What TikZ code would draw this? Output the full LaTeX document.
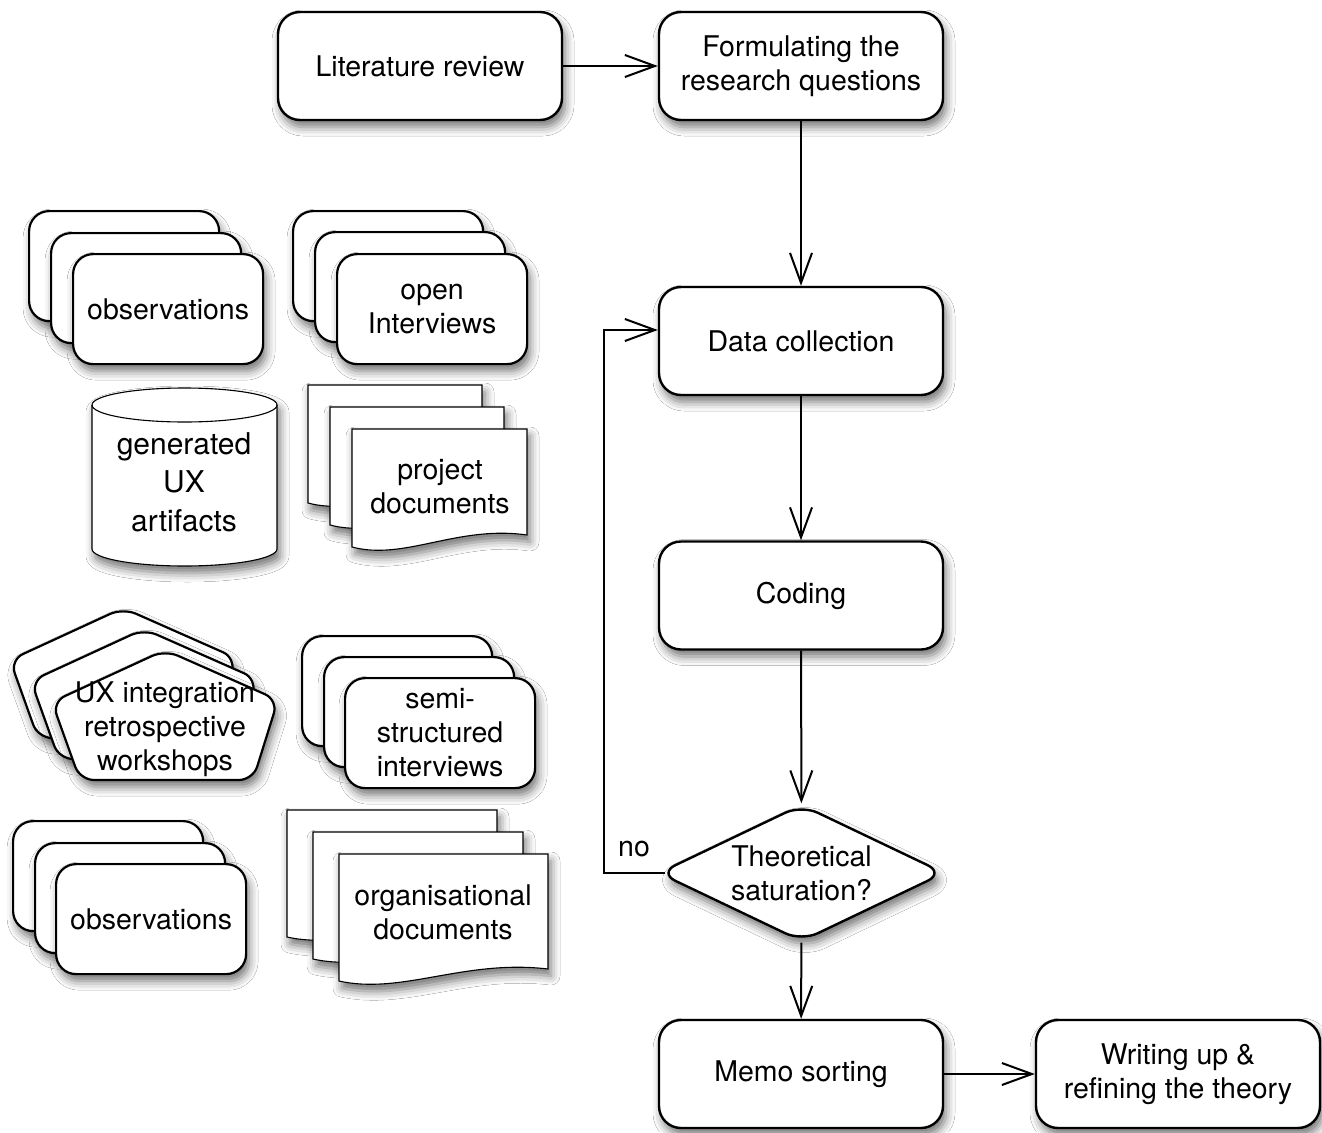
\documentclass[tikz,border=0pt]{standalone}
\usepackage{fontspec}
\setmainfont{TeX Gyre Heros}
\usetikzlibrary{arrows.meta,shapes.geometric,shadows.blur}
\newcommand\mainfs{\fontsize{28.5pt}{34pt}\selectfont}
\newcommand\cylfs{\fontsize{30pt}{38.5pt}\selectfont}
\tikzset{
 sh/.style={blur shadow={shadow xshift=3pt,shadow yshift=-7pt,shadow blur radius=9pt,shadow opacity=55}},
 mainbox/.style={draw, line width=2.4pt, fill=white, rounded corners=22pt, minimum width=284pt, minimum height=108pt, inner sep=0pt, align=center, font=\mainfs, sh},
 stackbox/.style={draw, line width=2.2pt, fill=white, rounded corners=20pt, minimum width=190pt, minimum height=110pt, inner sep=0pt, align=center, font=\mainfs, anchor=north west, sh},
 diam/.style={draw, shape=diamond, aspect=2, minimum width=286pt, minimum height=137pt, inner sep=0pt, rounded corners=18pt, line width=2.4pt, fill=white, font=\mainfs, align=center, sh},
 doc/.style={draw, line width=1.1pt, fill=white, sh},
 penta/.style={draw, line width=2.2pt, fill=white, rounded corners=14pt, sh},
 arr/.style={line width=2pt, -{Straight Barb[length=30pt,width=22pt,line width=2pt]}},
 lbl/.style={font=\mainfs, align=center, inner sep=0pt},
}
\newcommand\docsh[4]{\path[doc] (#1,-#2) -- (#1,{-#2-#4}) .. controls ({#1+0.3*#3},{-#2-#4-14}) and ({#1+0.6*#3},{-#2-#4+22}) .. ({#1+#3},{-#2-#4+12}) -- ({#1+#3},-#2) -- cycle;}
\newcommand\pent[2]{\path[penta] ({166.5+#1},{-780+#2}) -- ({80+#1},{-780+#2}) -- ({52+#1},{-702+#2}) -- ({165+#1},{-650+#2}) -- ({278+#1},{-700+#2}) -- ({253+#1},{-780+#2}) -- cycle;}
\begin{document}
\begin{tikzpicture}[x=1pt,y=1pt]
\fill[white] (0,0) rectangle (1322,-1132);
\useasboundingbox (0,0) rectangle (1322,-1132);

% main flow
\node[mainbox] (lit) at (420,-66) {Literature review};
\node[mainbox] (form) at (801,-66) {Formulating the\\research questions};
\node[mainbox] (dc) at (801,-341) {Data collection};
\node[mainbox] (cod) at (801,-595.5) {Coding};
\node[diam] (sat) at (801.5,-873) {Theoretical\\saturation?};
\node[mainbox] (memo) at (801,-1074) {Memo sorting};
\node[mainbox] (write) at (1178,-1074) {Writing up \&\\refining the theory};

\draw[arr] (lit) -- (form);
\draw[arr] (form) -- (dc);
\draw[arr] (dc) -- (cod);
\draw[arr] (cod) -- (sat);
\draw[arr] (sat) -- (memo);
\draw[arr] (memo) -- (write);
\coordinate (nc) at (604,-330);
\draw[arr, shorten <=-8pt] (sat.west) -| (nc) -- (dc.west |- nc);
\node[lbl] (no) at (634,-849) {no};

% observations (top)
\node[stackbox] (obsA) at (28,-210) {};
\node[stackbox] (obsB) at (50,-232) {};
\node[stackbox] (obs) at (72,-253) {observations};

% open interviews
\node[stackbox] (intA) at (292,-210) {};
\node[stackbox] (intB) at (314,-231) {};
\node[stackbox] (int) at (336,-253) {open\\Interviews};

% generated UX artifacts (cylinder)
\path[doc] (92,-405) -- (92,-549) arc[start angle=180,end angle=360,x radius=92.5,y radius=17] -- (277,-405) arc[start angle=0,end angle=180,x radius=92.5,y radius=17] -- cycle;
\draw[line width=1.1pt] (92,-405) arc[start angle=180,end angle=360,x radius=92.5,y radius=17];
\node[lbl, font=\cylfs] (cyl) at (184,-482) {generated\\UX\\artifacts};

% project documents
\docsh{308}{385}{174}{118}
\docsh{330}{407}{174}{118}
\docsh{352}{429}{175}{118}
\node[lbl] (proj) at (440,-487) {project\\documents};

% UX integration workshops
\pent{-42}{42}
\pent{-21}{21}
\pent{0}{0}
\node[lbl] (ux) at (165,-729) {UX integration\\retrospective\\workshops};

% semi-structured interviews
\node[stackbox] (semiA) at (301,-635) {};
\node[stackbox] (semiB) at (323,-656) {};
\node[stackbox] (semi) at (344,-677) {semi-\\structured\\interviews};

% observations (bottom)
\node[stackbox] (obs2A) at (12,-820) {};
\node[stackbox] (obs2B) at (34,-842) {};
\node[stackbox] (obs2) at (55,-863) {observations};

% organisational documents
\docsh{287}{810}{210}{127}
\docsh{313}{832}{210}{127}
\docsh{339}{854}{209}{127}
\node[lbl] (org) at (443,-912) {organisational\\documents};
\end{tikzpicture}
\end{document}
